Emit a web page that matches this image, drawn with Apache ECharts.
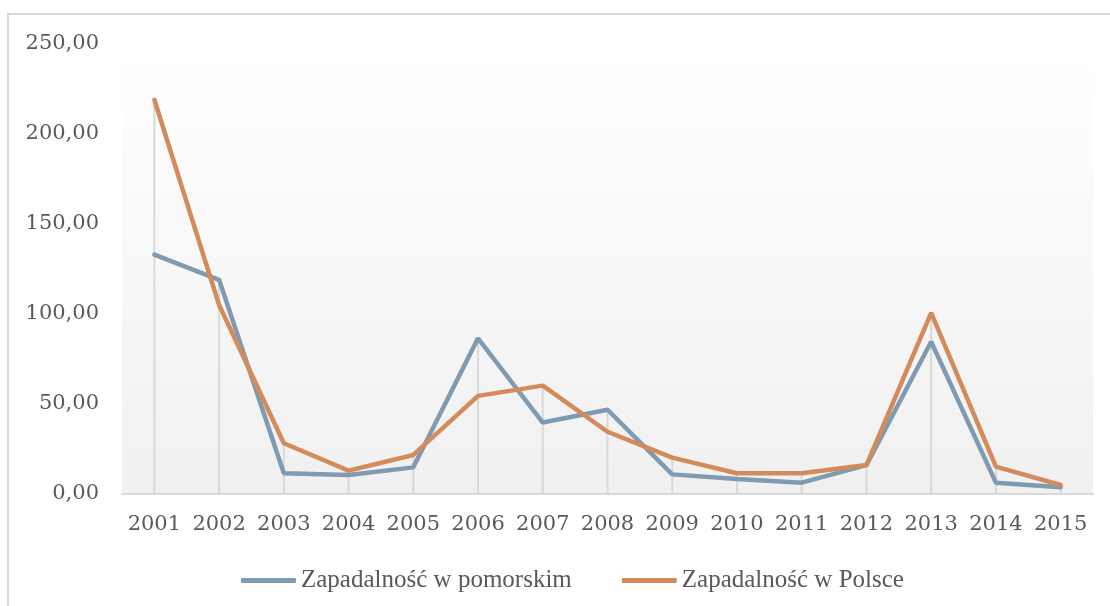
<!DOCTYPE html>
<html>
<head>
<meta charset="utf-8">
<script src="https://cdn.jsdelivr.net/npm/echarts@6/dist/echarts.min.js"></script>
<style>
  html, body { margin: 0; padding: 0; background: #fff; }
  #chart { width: 1110px; height: 606px; }
</style>
</head>
<body>
<div id="chart"></div>
<script>
// lata
let years = ['2001', '2002', '2003', '2004', '2005', '2006', '2007', '2008',
    '2009', '2010', '2011', '2012', '2013', '2014', '2015']
// Zapadalność w pomorskim
let pomorskie = [133, 119, 11.5, 10.5, 14.8, 86.5, 39.7, 46.8, 10.9, 8.3, 6.3, 16, 84.6, 6.3, 3.7]
// Zapadalność w Polsce
let polska = [219, 105, 28.2, 13, 21.7, 54.5, 60.2, 34.6, 20.2, 11.5, 11.5, 16.1, 100.6, 15.2, 5]
let yTicks = [0, 50, 100, 150, 200, 250]

let seriesNames = ['Zapadalność w pomorskim', 'Zapadalność w Polsce']
// linie pionowe do osi (wyższa z dwóch wartości)
let dropValues = years.map(function (y, i) {
    return Math.max(pomorskie[i], polska[i])
})

let AXIS_FONT = 'DejaVu Serif'
let LEGEND_FONT = 'Liberation Serif'
let TEXT_COLOR = '#595959'

let myChart = echarts.init(document.getElementById('chart'))
myChart.setOption({
    animation: false,
    backgroundColor: '#ffffff',
    graphic: [{
        type: 'rect',
        shape: { x: 8, y: 14, width: 1200, height: 700 },
        style: { fill: 'none', stroke: '#d9d9d9', lineWidth: 2 },
        silent: true
    }],
    grid: {
        left: 122,
        right: 17,
        top: 44,
        bottom: 112,
        show: true,
        borderWidth: 0,
        backgroundColor: new echarts.graphic.LinearGradient(0, 0, 0, 1, [
            { offset: 0, color: '#ffffff' },
            { offset: 1, color: '#f0f0f0' }
        ])
    },
    legend: {
        data: seriesNames,
        left: 236,
        top: 563,
        icon: 'roundRect',
        itemWidth: 55,
        itemHeight: 5,
        itemGap: 50,
        textStyle: {
            fontFamily: LEGEND_FONT,
            fontSize: 25,
            color: TEXT_COLOR
        }
    },
    xAxis: {
        type: 'category',
        data: years,
        axisLine: { lineStyle: { color: '#d9d9d9', width: 2 } },
        axisTick: { show: false },
        axisLabel: {
            interval: 0,
            margin: 20,
            fontFamily: AXIS_FONT,
            fontSize: 21,
            color: TEXT_COLOR
        }
    },
    yAxis: {
        type: 'value',
        min: yTicks[0],
        max: yTicks[yTicks.length - 1],
        interval: 50,
        axisLine: { show: false },
        axisTick: { show: false },
        splitLine: { show: false },
        axisLabel: {
            margin: 23,
            fontFamily: AXIS_FONT,
            fontSize: 21,
            color: TEXT_COLOR,
            formatter: function (v) {
                return v.toFixed(2).replace('.', ',')
            }
        }
    },
    series: [
        {
            name: 'drop',
            type: 'bar',
            data: dropValues,
            barWidth: 2,
            silent: true,
            z: 1,
            itemStyle: { color: '#d9d9d9' }
        },
        {
            name: seriesNames[0],
            type: 'line',
            data: pomorskie,
            symbol: 'none',
            z: 3,
            itemStyle: { color: '#7f9ab1' },
            lineStyle: { color: '#7f9ab1', width: 4.5, cap: 'round' }
        },
        {
            name: seriesNames[1],
            type: 'line',
            data: polska,
            symbol: 'none',
            z: 4,
            itemStyle: { color: '#d48b5c' },
            lineStyle: { color: '#d48b5c', width: 4.5, cap: 'round' }
        }
    ]
})
</script>
</body>
</html>
